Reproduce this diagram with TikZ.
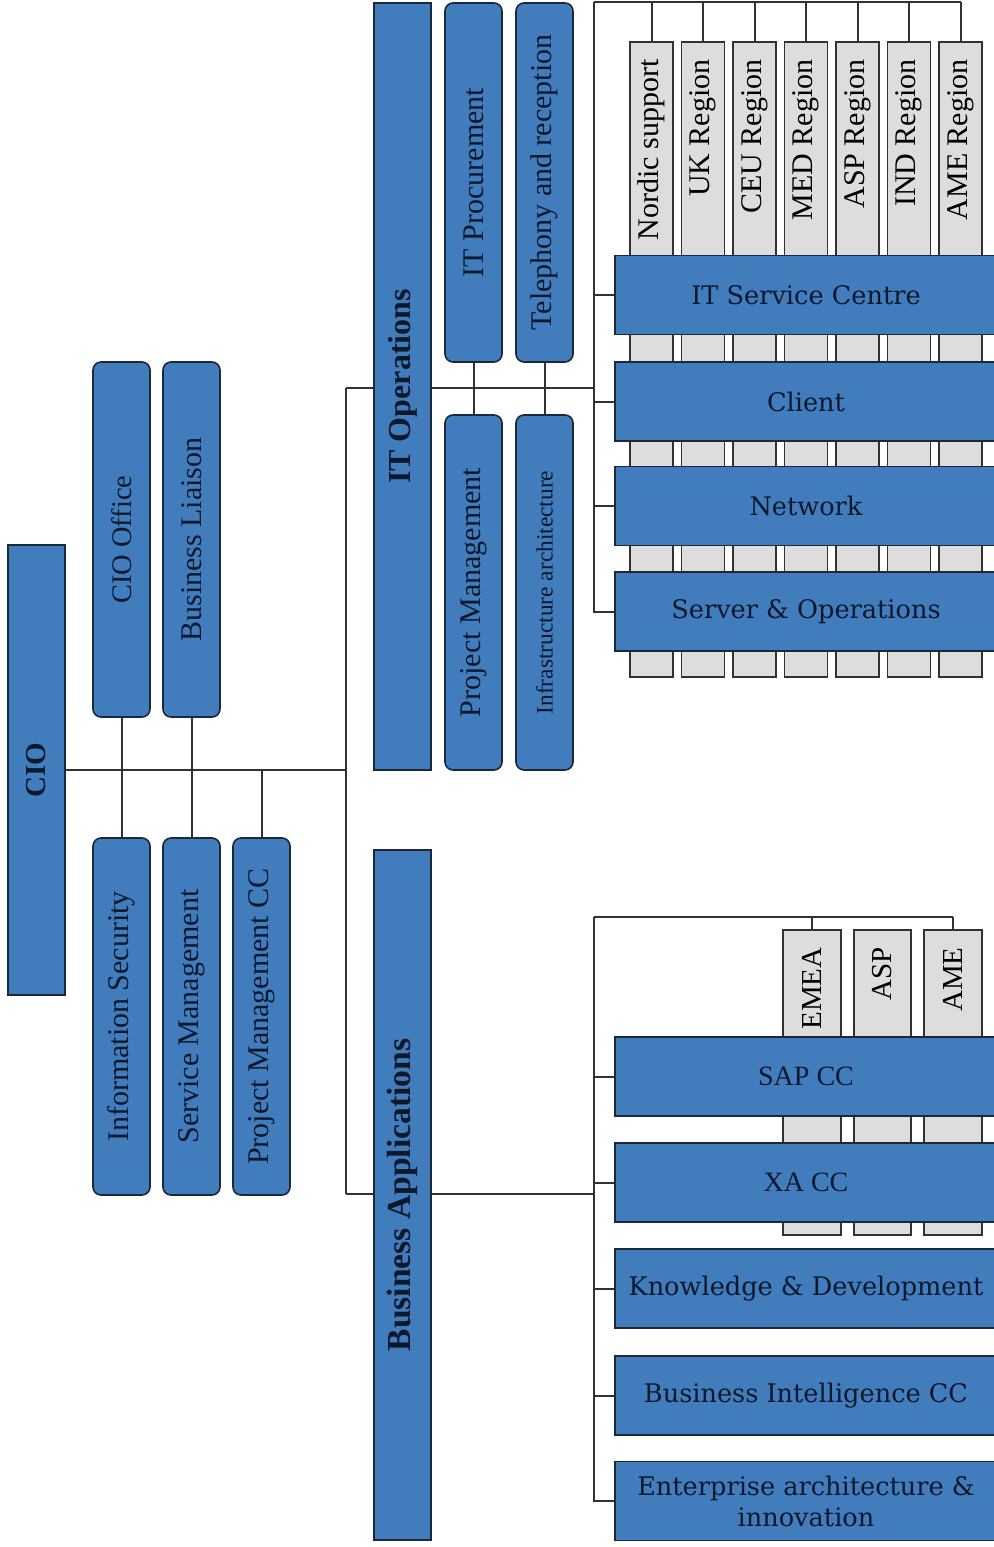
\documentclass[tikz,border=0pt]{standalone}
\usepackage{fontspec}
\usepackage{graphicx}
\setmainfont{Liberation Serif}
\newfontfamily\geo{DejaVu Serif}
\usetikzlibrary{backgrounds}
\definecolor{boxblue}{RGB}{65,124,189}
\definecolor{bdr}{RGB}{28,40,58}
\definecolor{txt}{RGB}{12,24,44}
\definecolor{gfill}{RGB}{221,221,221}
\definecolor{gbdr}{RGB}{50,50,50}
\definecolor{lc}{RGB}{50,50,50}
\tikzset{
  vbox/.style={draw=bdr, fill=boxblue, line width=0.8pt, inner sep=0pt, minimum width=28.5pt, text=txt, font=\fontsize{15}{18}\selectfont},
  rbox/.style={vbox, rounded corners=4pt},
  hbox/.style={draw=bdr, fill=boxblue, line width=0.8pt, minimum width=191pt, minimum height=39.5pt, inner sep=0pt, text=txt, align=center, font=\geo\fontsize{12.8}{15.5}\selectfont},
  gbox/.style={draw=gbdr, fill=gfill, line width=0.8pt, minimum width=21.5pt, inner sep=0pt},
  gtext/.style={rotate=90, anchor=east, inner sep=0pt, text=black, font=\fontsize{15}{18}\selectfont},
  conn/.style={draw=lc, line width=1pt}
}
\begin{document}
\begin{tikzpicture}[x=0.5pt,y=-0.5pt]
\useasboundingbox (0,0) rectangle (994,1547);

% ---------- left part ----------
\node[vbox, minimum height=225pt] (cio) at (36.5,770) {\rotatebox{90}{\bfseries\fontsize{14.5}{17}\selectfont CIO}};
\node[rbox, minimum height=177.5pt] (cioff) at (121.5,539.5) {\rotatebox{90}{\fontsize{14.2}{17}\selectfont CIO Office}};
\node[rbox, minimum height=177.5pt] (bliai) at (191.5,539.5) {\rotatebox{90}{Business Liaison}};
\node[rbox, minimum height=178.5pt] (isec) at (121.5,1016.5) {\rotatebox{90}{Information Security}};
\node[rbox, minimum height=178.5pt] (smgmt) at (191.5,1016.5) {\rotatebox{90}{Service Management}};
\node[rbox, minimum height=178.5pt] (pmcc) at (261.5,1016.5) {\rotatebox{90}{Project Management CC}};

% ---------- middle ----------
\node[vbox, minimum height=383.5pt] (itops) at (402.5,386.5) {\rotatebox{90}{\bfseries\fontsize{16}{19}\selectfont IT Operations}};
\node[vbox, minimum height=345pt] (bapps) at (402.5,1195) {\rotatebox{90}{\bfseries\fontsize{16.8}{19}\selectfont Business Applications}};
\node[rbox, minimum height=179.5pt] (itproc) at (473.5,182.5) {\rotatebox{90}{IT Procurement}};
\node[rbox, minimum height=179.5pt] (tele) at (544.5,182.5) {\rotatebox{90}{Telephony and reception}};
\node[rbox, minimum height=177.5pt] (pmgmt) at (473.5,592.5) {\rotatebox{90}{Project Management}};
\node[rbox, minimum height=177.5pt] (infra) at (544.5,592.5) {\rotatebox{90}{\fontsize{11.7}{14}\selectfont Infrastructure architecture}};

% ---------- region boxes (IT Operations) ----------
\foreach \i/\t in {0/Nordic support,1/UK Region,2/CEU Region,3/MED Region,4/ASP Region,5/IND Region,6/AME Region}{
  \node[gbox, minimum height=317.5pt] (r\i) at (651.5+51.5*\i,359.5) {};
  \node[gtext] (rt\i) at (651.5+51.5*\i,59) {\t};
}

% ---------- region boxes (Business Applications) ----------
\node[gbox, minimum width=29pt, minimum height=152.5pt] (emea) at (812,1082.5) {};
\node[gbox, minimum width=28.5pt, minimum height=152.5pt] (asp) at (882.5,1082.5) {};
\node[gbox, minimum width=29pt, minimum height=152.5pt] (ame) at (953,1082.5) {};
\node[gtext, font=\fontsize{14.5}{17}\selectfont] (emeat) at (812,947) {EMEA};
\node[gtext, font=\fontsize{14.5}{17}\selectfont] (aspt) at (882.5,947) {ASP};
\node[gtext, font=\fontsize{14.5}{17}\selectfont] (amet) at (953,947) {AME};

% ---------- horizontal blue boxes ----------
\node[hbox] (itsc) at (806,295) {IT Service Centre};
\node[hbox] (client) at (806,401.5) {Client};
\node[hbox] (netw) at (806,506) {Network};
\node[hbox] (srv) at (806,611.5) {Server \& Operations};
\node[hbox, font=\fontsize{14}{17}\selectfont] (sap) at (806,1076.5) {SAP CC};
\node[hbox, font=\fontsize{14}{17}\selectfont] (xa) at (806,1182.5) {XA CC};
\node[hbox] (kd) at (806,1288.5) {Knowledge \& Development};
\node[hbox] (bi) at (806,1395.5) {Business Intelligence CC};
\node[hbox] (ea) at (806,1501) {Enterprise architecture \&\\innovation};

% ---------- connectors ----------
\coordinate (j1) at (346,770);
\coordinate (j2) at (346,388);
\coordinate (j3) at (346,1194);
\coordinate (ttop) at (594,2);
\coordinate (btop) at (594,917);
\begin{pgfonlayer}{background}
  \draw[conn] (cio.east) -- (j1);
  \draw[conn] (cioff.south) -- (isec.north);
  \draw[conn] (bliai.south) -- (smgmt.north);
  \draw[conn] (pmcc.north) -- (pmcc.north |- j1);
  \draw[conn] (j2) -- (j3);
  \draw[conn] (j2) -- (j2 -| ttop);
  \draw[conn] (j3) -- (j3 -| btop);
  \draw[conn] (itproc.south) -- (pmgmt.north);
  \draw[conn] (tele.south) -- (infra.north);
  % IT Operations bus
  \draw[conn] (ttop) -- (ttop |- srv.west) -- (srv.west);
  \draw[conn] (ttop |- itsc.west) -- (itsc.west);
  \draw[conn] (ttop |- client.west) -- (client.west);
  \draw[conn] (ttop |- netw.west) -- (netw.west);
  \draw[conn] (ttop) -- (ttop -| r6.north);
  \foreach \i in {0,...,6}{
    \draw[conn] (r\i.north) -- (r\i.north |- ttop);
  }
  % Business Applications bus
  \draw[conn] (btop) -- (btop |- ea.west) -- (ea.west);
  \draw[conn] (btop |- sap.west) -- (sap.west);
  \draw[conn] (btop |- xa.west) -- (xa.west);
  \draw[conn] (btop |- kd.west) -- (kd.west);
  \draw[conn] (btop |- bi.west) -- (bi.west);
  \draw[conn] (btop) -- (btop -| ame.north);
  \draw[conn] (emea.north) -- (emea.north |- btop);
  \draw[conn] (ame.north) -- (ame.north |- btop);
\end{pgfonlayer}
\end{tikzpicture}
\end{document}
